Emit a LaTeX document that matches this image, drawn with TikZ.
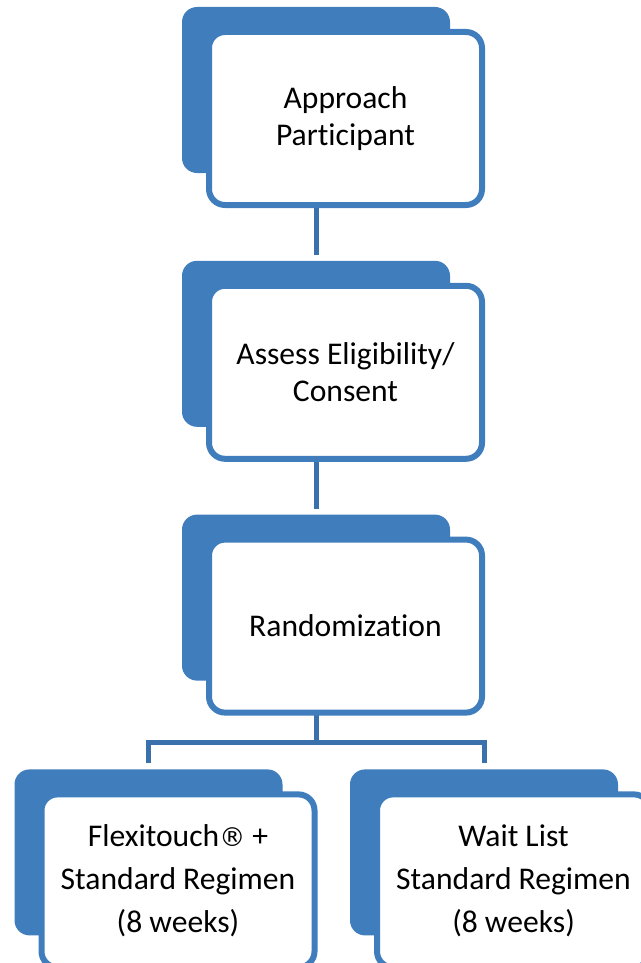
\documentclass[tikz,border=0pt]{standalone}
\usepackage{fontspec}
\setmainfont[Ligatures=NoCommon]{Carlito}
\newfontfamily\symfont{DejaVu Sans}
\usetikzlibrary{positioning,calc,backgrounds}
\definecolor{boxblue}{RGB}{64,125,189}
\definecolor{lineblue}{RGB}{58,112,172}

\begin{document}
\begin{tikzpicture}[node distance = 43.5pt,
  back/.style = {fill=boxblue, rounded corners=7.5pt, inner sep=0pt,
    minimum width=134pt, minimum height=83pt},
  front/.style = {draw=boxblue, fill=white, line width=3pt,
    rounded corners=8pt, inner sep=0pt, align=center,
    minimum width=136.5pt, minimum height=86.5pt,
    font=\fontsize{15.8}{18.2}\selectfont,
    xshift=14.75pt, yshift=-14.25pt},
  wide/.style = {font=\fontsize{15.8}{21.6}\selectfont},
  link/.style = {draw=lineblue, line width=2.5pt}
  ]
  \useasboundingbox (0,0) rectangle (320.5pt,-481.5pt);

  \node (appr-b) [back] at (158pt,-45pt) {};
  \node (appr) [front] at (appr-b) {Approach\\Participant};
  \node (assess-b) [back, below=of appr-b] {};
  \node (assess) [front] at (assess-b) {Assess Eligibility/\\Consent};
  \node (rand-b) [back, below=of assess-b] {};
  \node (rand) [front] at (rand-b) {Randomization};
  \node (flex-b) [back, below=44pt of rand-b, xshift=-83.75pt] {};
  \node (flex) [front, wide] at (flex-b) {Flexitouch{\symfont\fontsize{13}{16}\selectfont ®} +\\Standard Regimen\\(8 weeks)};
  \node (wait-b) [back, below=44pt of rand-b, xshift=84pt] {};
  \node (wait) [front, wide] at (wait-b) {Wait List\\Standard Regimen\\(8 weeks)};

  \coordinate (fork) at ($(rand-b.center |- rand.south)!0.5!(rand-b.center |- flex-b.north)$);

  \begin{scope}[on background layer]
    \draw [link] (appr-b) -- ([yshift=2.5pt]assess-b.north);
    \draw [link] (assess-b) -- ([yshift=2.5pt]rand-b.north);
    \draw [link] (rand-b) -- (fork);
    \draw [link] ([yshift=3pt]flex-b.north) |- (fork) -| ([yshift=3pt]wait-b.north);
  \end{scope}
\end{tikzpicture}
\end{document}
